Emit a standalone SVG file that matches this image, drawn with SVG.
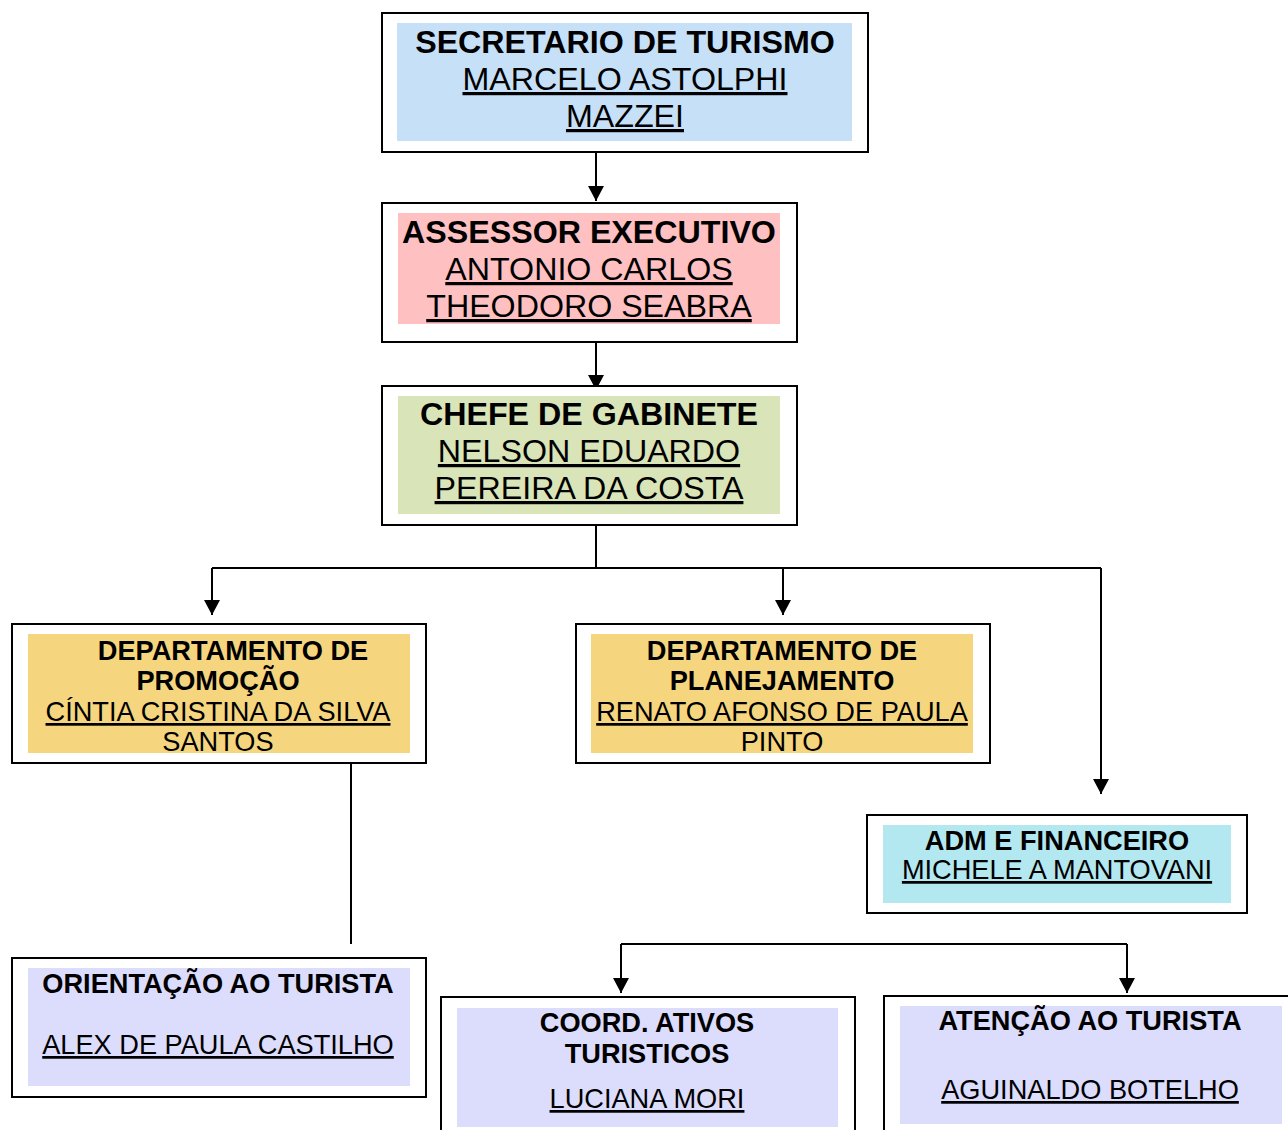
<svg xmlns="http://www.w3.org/2000/svg" width="1288" height="1130" viewBox="0 0 1288 1130">
<defs>
<marker id="arr" markerUnits="userSpaceOnUse" markerWidth="16" markerHeight="16" viewBox="0 0 16 16" refX="15" refY="8" orient="auto">
<path d="M0,0 L15,8 L0,16 Z" fill="#000"/>
</marker>
<style>
.box{fill:#fff;stroke:#000;stroke-width:2}
.t{font-family:"Liberation Sans",Arial,sans-serif;text-anchor:middle;fill:#000}
.b{font-weight:bold}
.u{text-decoration:underline}
.big{font-size:32.2px}
.sm{font-size:27.2px}
.c{fill:none;stroke:#000;stroke-width:2}
</style>
</defs>
<rect width="1288" height="1130" fill="#fff"/>
<g id="connectors">
<path class="c" d="M596,152 V201" marker-end="url(#arr)"/>
<path class="c" d="M596,342 V390" marker-end="url(#arr)"/>
<path class="c" d="M596,525 V568 M212,568 H1101"/>
<path class="c" d="M212,568 V615" marker-end="url(#arr)"/>
<path class="c" d="M783,568 V615" marker-end="url(#arr)"/>
<path class="c" d="M1101,568 V794" marker-end="url(#arr)"/>
<path class="c" d="M351,764 V944"/>
<path class="c" d="M621,944 H1127"/>
<path class="c" d="M621,944 V993" marker-end="url(#arr)"/>
<path class="c" d="M1127,944 V993" marker-end="url(#arr)"/>
</g>
<g id="secretario">
<rect class="box" x="382" y="13" width="486" height="139"/>
<rect x="397" y="23" width="455" height="118" fill="#c6e0f8"/>
<text class="t b big" x="625" y="53">SECRETARIO DE TURISMO</text>
<text class="t u big" x="625" y="90">MARCELO ASTOLPHI</text>
<text class="t u big" x="625" y="127">MAZZEI</text>
</g>
<g id="assessor">
<rect class="box" x="382" y="203" width="415" height="139"/>
<rect x="398" y="213" width="382" height="111" fill="#ffc0c2"/>
<text class="t b big" x="589" y="243">ASSESSOR EXECUTIVO</text>
<text class="t u big" x="589" y="280">ANTONIO CARLOS</text>
<text class="t u big" x="589" y="317">THEODORO SEABRA</text>
</g>
<g id="chefe">
<rect class="box" x="382" y="386" width="415" height="139"/>
<rect x="398" y="396" width="382" height="118" fill="#d9e4b8"/>
<text class="t b big" x="589" y="425">CHEFE DE GABINETE</text>
<text class="t u big" x="589" y="462">NELSON EDUARDO</text>
<text class="t u big" x="589" y="499">PEREIRA DA COSTA</text>
</g>
<g id="promocao">
<rect class="box" x="12" y="624" width="414" height="139"/>
<rect x="28" y="634" width="382" height="119" fill="#f5d67f"/>
<text class="t b sm" x="233" y="660">DEPARTAMENTO DE</text>
<text class="t b sm" x="218" y="690">PROMOÇÃO</text>
<text class="t u sm" x="218" y="721">CÍNTIA CRISTINA DA SILVA</text>
<text class="t sm" x="218" y="751">SANTOS</text>
</g>
<g id="planejamento">
<rect class="box" x="576" y="624" width="414" height="139"/>
<rect x="591" y="634" width="382" height="119" fill="#f5d67f"/>
<text class="t b sm" x="782" y="660">DEPARTAMENTO DE</text>
<text class="t b sm" x="782" y="690">PLANEJAMENTO</text>
<text class="t u sm" x="782" y="721">RENATO AFONSO DE PAULA</text>
<text class="t sm" x="782" y="751">PINTO</text>
</g>
<g id="adm">
<rect class="box" x="867" y="815" width="380" height="98"/>
<rect x="883" y="825" width="348" height="78" fill="#b3e8f0"/>
<text class="t b sm" x="1057" y="850">ADM E FINANCEIRO</text>
<text class="t u sm" x="1057" y="879">MICHELE A MANTOVANI</text>
</g>
<g id="orientacao">
<rect class="box" x="12" y="958" width="414" height="139"/>
<rect x="28" y="968" width="382" height="118" fill="#dcdcfc"/>
<text class="t b sm" x="218" y="993">ORIENTAÇÃO AO TURISTA</text>
<text class="t u sm" x="218" y="1054">ALEX DE PAULA CASTILHO</text>
</g>
<g id="coord">
<rect class="box" x="441" y="997" width="414" height="150"/>
<rect x="457" y="1008" width="381" height="119" fill="#dcdcfc"/>
<text class="t b sm" x="647" y="1032">COORD. ATIVOS</text>
<text class="t b sm" x="647" y="1063">TURISTICOS</text>
<text class="t u sm" x="647" y="1108">LUCIANA MORI</text>
</g>
<g id="atencao">
<rect class="box" x="884" y="996" width="420" height="150"/>
<rect x="900" y="1006" width="382" height="118" fill="#dcdcfc"/>
<text class="t b sm" x="1090" y="1030">ATENÇÃO AO TURISTA</text>
<text class="t u sm" x="1090" y="1099">AGUINALDO BOTELHO</text>
</g>
</svg>
